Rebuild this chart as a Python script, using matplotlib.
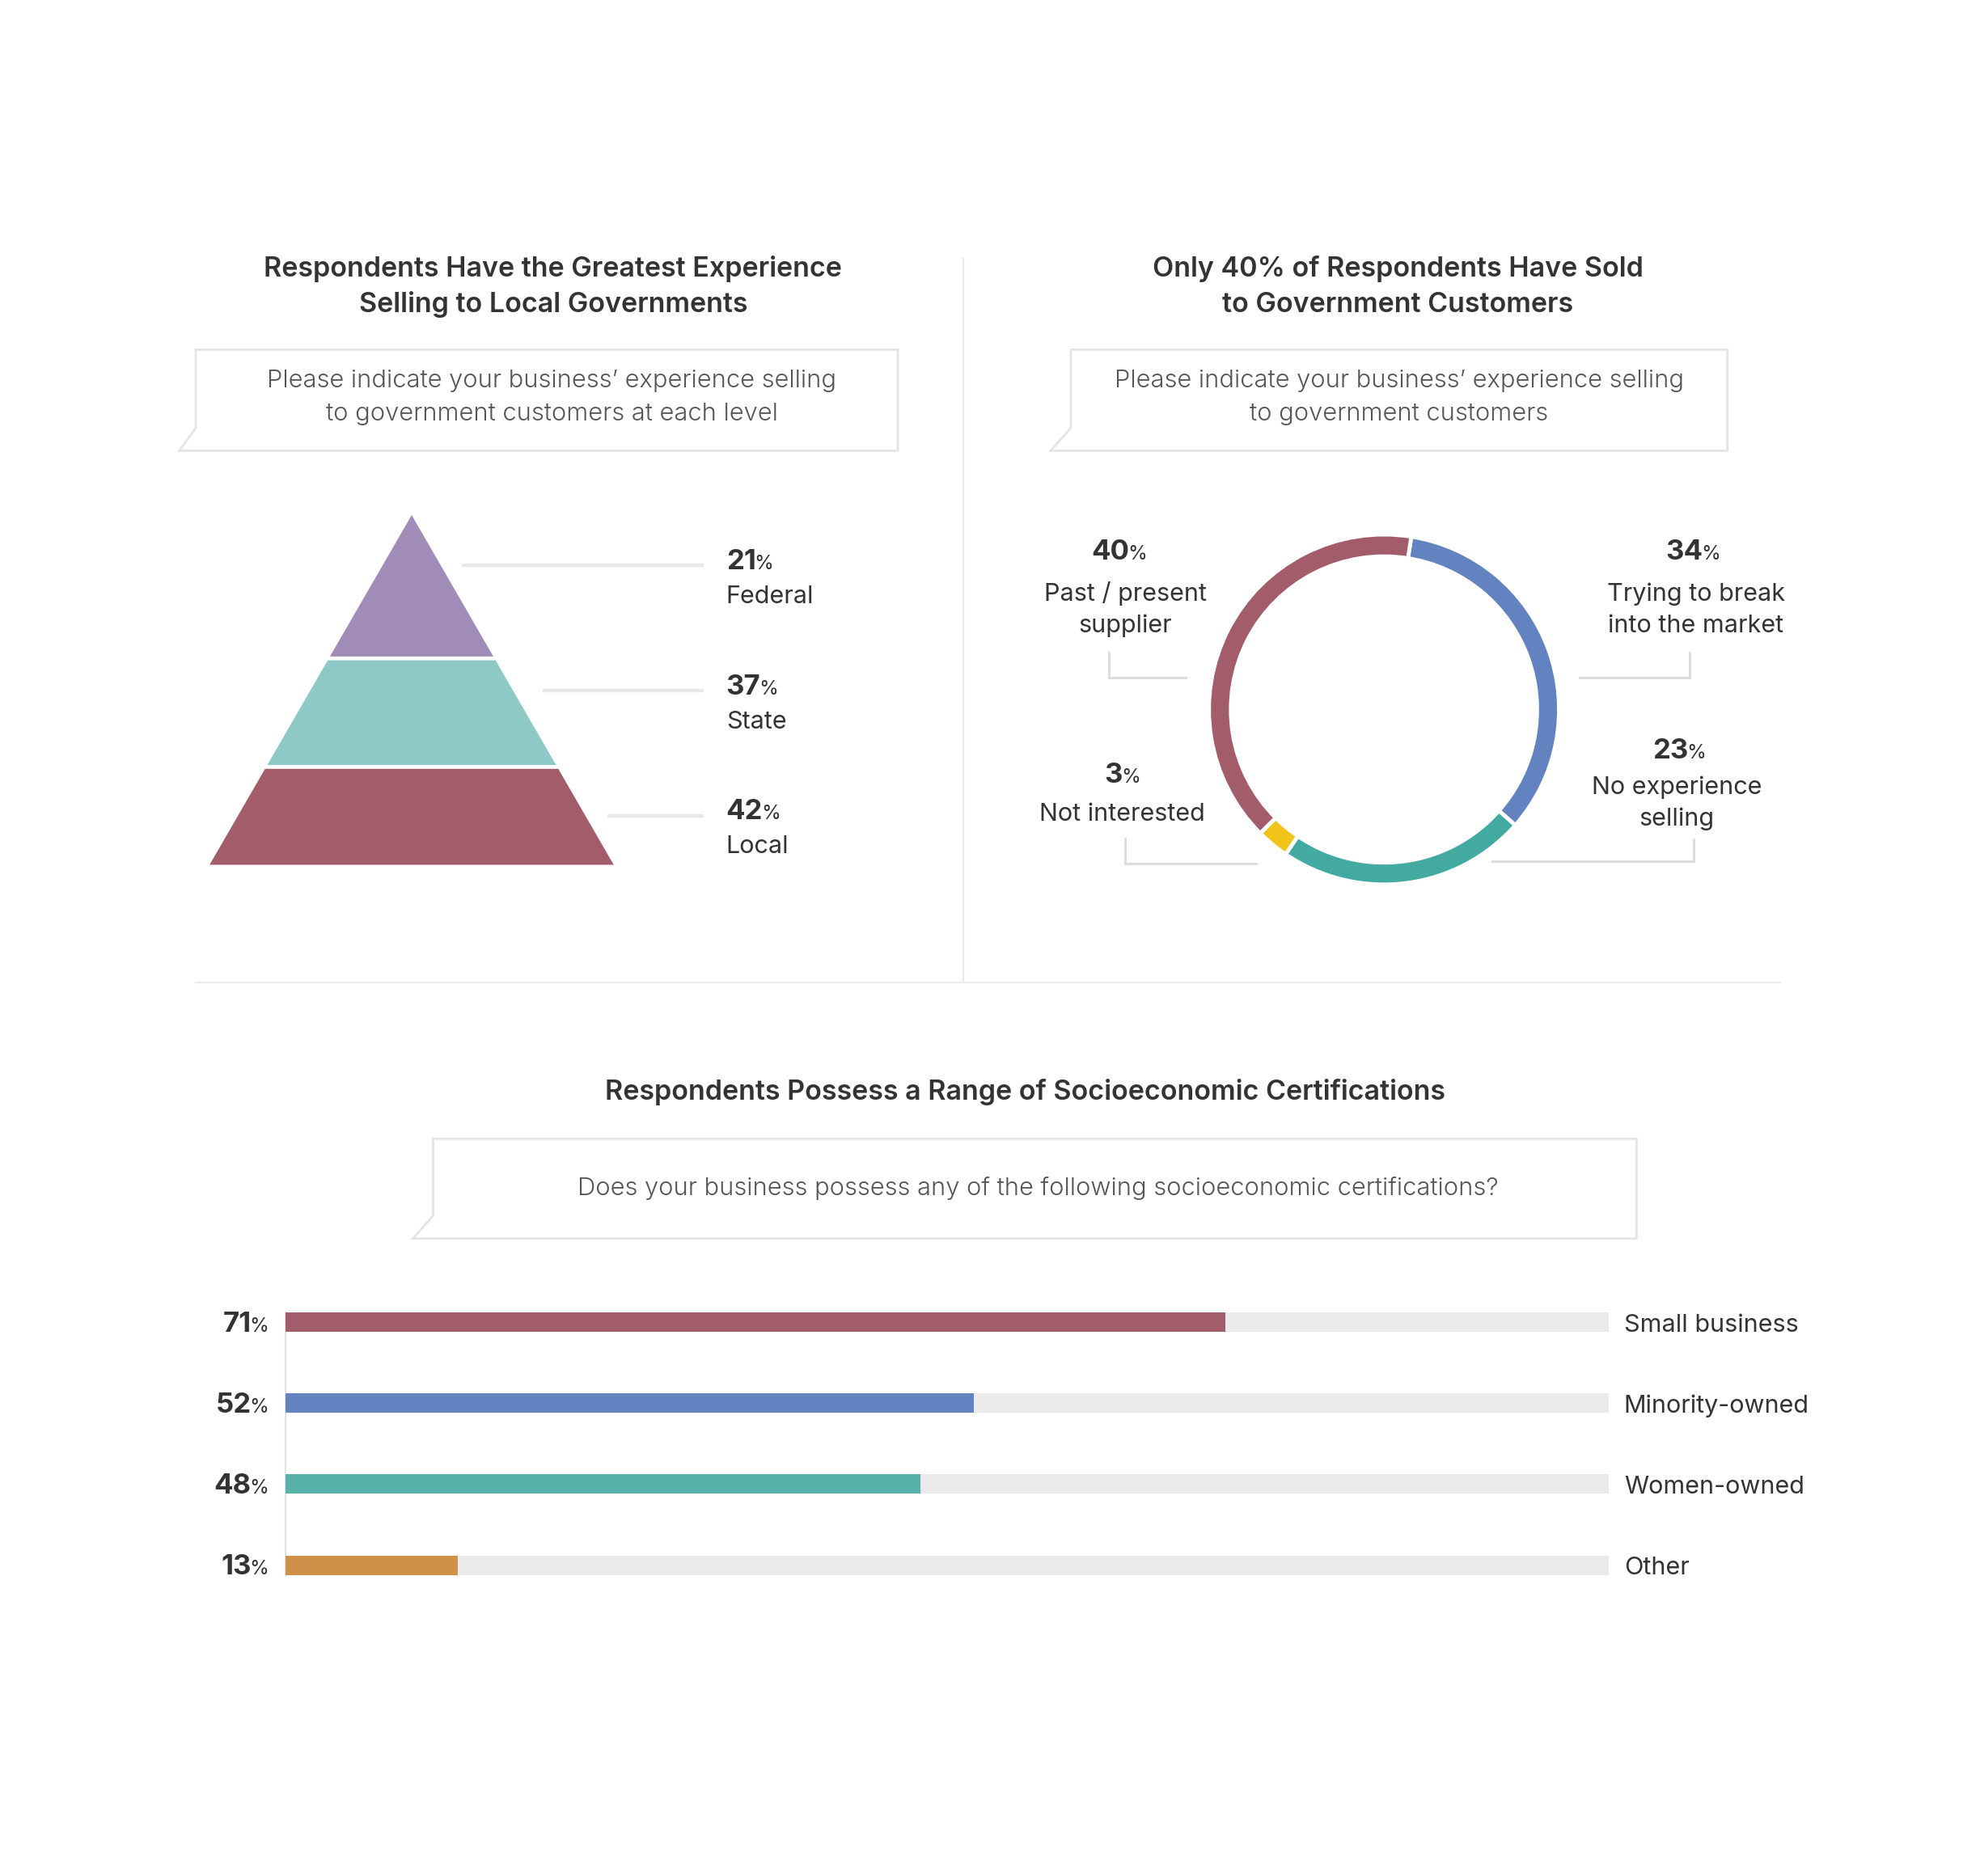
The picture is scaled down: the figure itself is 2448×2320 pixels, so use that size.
import matplotlib
matplotlib.use('Agg')
import matplotlib.pyplot as plt
from matplotlib.patches import Polygon
from matplotlib.transforms import offset_copy

plt.rcParams['font.family'] = ['Inter', 'DejaVu Sans']

# ---------------- data ----------------
title_left = ['Respondents Have the Greatest Experience', 'Selling to Local Governments']
question_left = ['Please indicate your business\u2019 experience selling',
                 'to government customers at each level']
pyr_levels = ['Federal', 'State', 'Local']
pyr_values = ['21', '37', '42']
pyr_colors = ['#A08CB6', '#8FC9C7', '#A35C6A']

title_right = ['Only 40% of Respondents Have Sold', 'to Government Customers']
question_right = ['Please indicate your business\u2019 experience selling',
                  'to government customers']
donut_labels = [['Trying to break', 'into the market'], ['No experience', 'selling'],
                ['Not interested'], ['Past / present', 'supplier']]
donut_values = [34, 23, 3, 40]
donut_colors = ['#6383C0', '#43AAA2', '#F0C419', '#A35C6A']

title_bottom = 'Respondents Possess a Range of Socioeconomic Certifications'
question_bottom = 'Does your business possess any of the following socioeconomic certifications?'
cert_labels = ['Small business', 'Minority-owned', 'Women-owned', 'Other']
cert_values = [71, 52, 48, 13]
cert_colors = ['#A35C6A', '#6383C0', '#57B2AA', '#CF9149']

# ---------------- layout ----------------
W, H = 1568, 1486
FW, FH, DPI = 2448, 2320, 100
K = FW / W  # dots per layout unit

TXT = '#333333'
SUB = '#555555'
LINE = '#E4E4E4'

fig = plt.figure(figsize=(FW / DPI, FH / DPI), dpi=DPI)
fig.patch.set_facecolor('white')
ov = fig.add_axes([0, 0, 1, 1])
ov.set_xlim(0, W)
ov.set_ylim(H, 0)
ov.axis('off')
renderer = fig.canvas.get_renderer()

TW = 600      # title weight
QW = 300      # question weight
LW = 'normal' # label weight
TSIZE = 24.5
QSIZE = 22.2
LSIZE = 22
NSIZE = 25
PSIZE = 17.5


def measure(s, size, weight):
    t = fig.text(0, 0, s, fontsize=size, weight=weight)
    w = t.get_window_extent(renderer).width
    t.remove()
    return w


def pct(ax, x, y, num, ha='left', trans=None, dx=0, dy=0):
    trans = trans if trans is not None else ax.transData
    wn = measure(num, NSIZE, 'bold')
    wp = measure('%', PSIZE, 'normal')
    gap = -2
    total = wn + gap + wp
    if ha == 'left':
        x0 = 0
    elif ha == 'center':
        x0 = -total / 2
    else:
        x0 = -total
    ax.text(x, y, num, fontsize=NSIZE, weight='bold', color=TXT, ha='left', va='baseline',
            transform=offset_copy(trans, fig=fig, x=x0 + dx, y=dy, units='dots'))
    ax.text(x, y, '%', fontsize=PSIZE, weight='normal', color=TXT, ha='left', va='baseline',
            transform=offset_copy(trans, fig=fig, x=x0 + wn + gap + dx, y=dy, units='dots'))


def bubble(left, top, right, bottom, tail_x, bend):
    pts = [(left, top), (right, top), (right, bottom), (tail_x, bottom), (left, bottom - bend)]
    ov.add_patch(Polygon(pts, closed=True, facecolor='white', edgecolor=LINE, lw=2.0))


# dividers
ov.plot([763, 763], [205, 778], color='#EBEBEB', lw=1.6)
ov.plot([155, 1410], [778, 778], color='#EBEBEB', lw=1.6)

# ---- left panel ----
for i, s in enumerate(title_left):
    ov.text(438, 219 + 28 * i, s, fontsize=TSIZE, weight=TW, color=TXT, ha='center', va='baseline')
bubble(155, 277, 711, 357, 142, 18)
for i, s in enumerate(question_left):
    ov.text(437, 307 + 26 * i, s, fontsize=QSIZE, weight=QW, color=SUB, ha='center', va='baseline')

apex_x, apex_y, base_y, half_base = 326, 408, 685, 160
layer_y = [(408, 520), (523, 606), (609, 685)]


def hw(y):
    return (y - apex_y) / (base_y - apex_y) * half_base


for (y0, y1), c in zip(layer_y, pyr_colors):
    pts = [(apex_x - hw(y0), y0), (apex_x + hw(y0), y0), (apex_x + hw(y1), y1), (apex_x - hw(y1), y1)]
    ov.add_patch(Polygon(pts, closed=True, facecolor=c, edgecolor='none'))

leader_y = [448, 547, 646]
leader_x0 = [366, 430, 481]
for i in range(3):
    ov.plot([leader_x0[i], 557], [leader_y[i], leader_y[i]], color='#E8E8E8', lw=3.2, solid_capstyle='butt')
    pct(ov, 575, leader_y[i] + 3, pyr_values[i], ha='left')
    ov.text(575, leader_y[i] + 30, pyr_levels[i], fontsize=LSIZE, weight=LW, color=TXT, ha='left', va='baseline')

# ---- right panel ----
for i, s in enumerate(title_right):
    ov.text(1107, 219 + 28 * i, s, fontsize=TSIZE, weight=TW, color=TXT, ha='center', va='baseline')
bubble(848, 277, 1368, 357, 832, 18)
for i, s in enumerate(question_right):
    ov.text(1108, 307 + 26 * i, s, fontsize=QSIZE, weight=QW, color=SUB, ha='center', va='baseline')

cx, cy, R = 1096, 562, 140
dax = fig.add_axes([(cx - R) / W, 1 - (cy + R) / H, 2 * R / W, 2 * R / H])
dax.pie(donut_values, colors=donut_colors, startangle=81, counterclock=False, radius=1,
        wedgeprops=dict(width=0.125, edgecolor='white', linewidth=3.5))
dax.set_xlim(-1.01, 1.01)
dax.set_ylim(-1.01, 1.01)
dax.set_aspect('equal')
dax.axis('off')

# label positions: (pct center x, pct baseline, text center x, first line baseline)
dl_pos = [(1341, 443, 1343, 476), (1330, 601, 1328, 629), (889, 620, 889, 650), (886, 443, 891, 476)]
leaders = [[(1338, 517), (1338, 537), (1251, 537)],
           [(1341, 665), (1341, 682), (1182, 682)],
           [(891, 664), (891, 684), (995, 684)],
           [(878, 517), (878, 537), (939, 537)]]
for i in range(4):
    px, pb, tx, tb = dl_pos[i]
    pct(ov, px, pb, str(donut_values[i]), ha='center')
    for j, line in enumerate(donut_labels[i]):
        ov.text(tx, tb + 25 * j, line, fontsize=LSIZE, weight=LW, color=TXT, ha='center', va='baseline')
    xs = [p[0] for p in leaders[i]]
    ys = [p[1] for p in leaders[i]]
    ov.plot(xs, ys, color='#DDDDDD', lw=2.2, solid_joinstyle='miter')

# ---- bottom panel ----
ov.text(812, 871, title_bottom, fontsize=TSIZE, weight=TW, color=TXT, ha='center', va='baseline')
bubble(343, 902, 1296, 981, 327, 18)
ov.text(822, 947, question_bottom, fontsize=QSIZE, weight=QW, color=SUB, ha='center', va='baseline')

top, bot = 1015, 1272
bx = fig.add_axes([226 / W, 1 - bot / H, (1274 - 226) / W, (bot - top) / H])
ypos = list(range(len(cert_values)))
bh = 0.24
bx.plot([0, 0], [-bh / 2, ypos[-1] + bh / 2], color='#E2E2E2', lw=1.5, zorder=0, clip_on=False)
bx.barh(ypos, [100] * len(ypos), height=bh, color='#EAEAEA', zorder=1)
bx.barh(ypos, cert_values, height=bh, color=cert_colors, zorder=2)
bx.set_xlim(0, 100)
bx.set_ylim(len(ypos) - 0.5, -0.5)
bx.axis('off')
for i, (v, lab) in enumerate(zip(cert_values, cert_labels)):
    pct(bx, 0, i, str(v), ha='right', dx=-13 * K, dy=-7.5 * K)
    bx.text(100, i, lab, fontsize=LSIZE, weight=LW, color=TXT, ha='left', va='baseline',
            transform=offset_copy(bx.transData, fig=fig, x=12 * K, y=-7.5 * K, units='dots'))

fig.savefig('out.png', dpi=DPI, facecolor='white')
